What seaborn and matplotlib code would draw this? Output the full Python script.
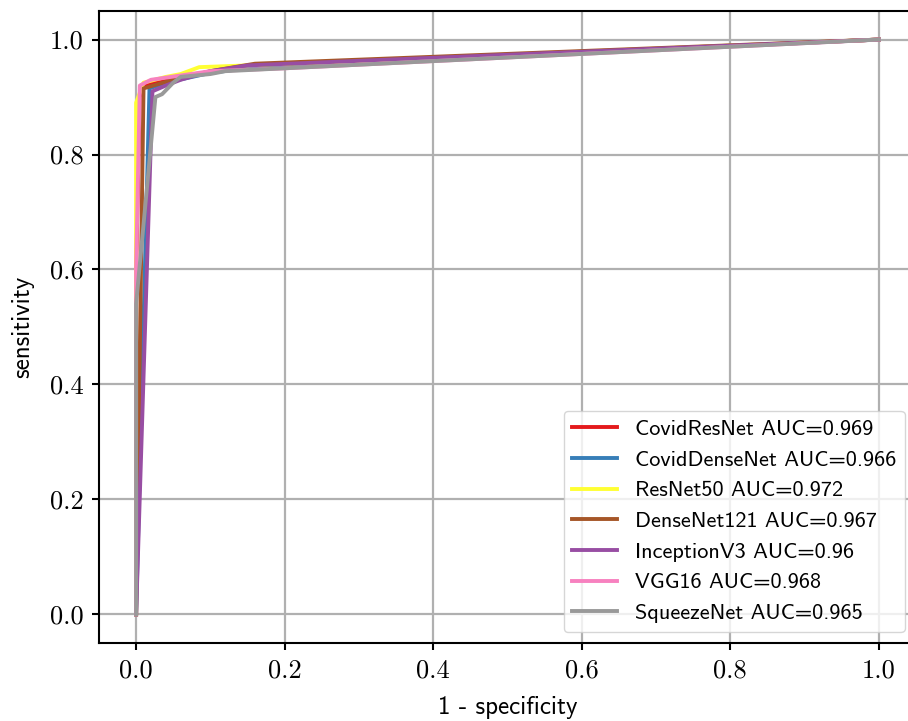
import pandas as pd
import seaborn as sns
import matplotlib.pyplot as plt
from matplotlib.ticker import FuncFormatter

# ROC points (fpr, tpr) per model
models = ["CovidResNet", "CovidDenseNet", "ResNet50", "DenseNet121",
          "InceptionV3", "VGG16", "SqueezeNet"]
auc = [0.969, 0.966, 0.972, 0.967, 0.96, 0.968, 0.965]
colors = ["#e41a1c", "#377eb8", "#ffff33", "#a65628",
          "#984ea3", "#f781bf", "#999999"]

fpr_covidresnet = [0.0, 0.0, 0.005, 0.01, 0.05, 0.15, 1.0]
tpr_covidresnet = [0.0, 0.6, 0.90, 0.92, 0.935, 0.952, 1.0]
fpr_coviddensenet = [0.0, 0.018, 0.04, 0.1, 0.16, 1.0]
tpr_coviddensenet = [0.0, 0.915, 0.925, 0.942, 0.952, 1.0]
fpr_resnet50 = [0.0, 0.0, 0.01, 0.04, 0.06, 0.085, 0.15, 1.0]
tpr_resnet50 = [0.0, 0.89, 0.925, 0.935, 0.94, 0.952, 0.955, 1.0]
fpr_densenet121 = [0.0, 0.01, 0.05, 0.1, 0.16, 1.0]
tpr_densenet121 = [0.0, 0.915, 0.93, 0.945, 0.958, 1.0]
fpr_inceptionv3 = [0.0, 0.022, 0.04, 0.06, 0.1, 0.15, 1.0]
tpr_inceptionv3 = [0.0, 0.91, 0.92, 0.93, 0.945, 0.955, 1.0]
fpr_vgg16 = [0.0, 0.0, 0.005, 0.02, 0.1, 0.2, 1.0]
tpr_vgg16 = [0.0, 0.6, 0.92, 0.93, 0.945, 0.95, 1.0]
fpr_squeezenet = [0.0, 0.0, 0.026, 0.035, 0.05, 0.06, 0.1, 0.12, 1.0]
tpr_squeezenet = [0.0, 0.54, 0.90, 0.905, 0.925, 0.935, 0.94, 0.945, 1.0]

fprs = [fpr_covidresnet, fpr_coviddensenet, fpr_resnet50, fpr_densenet121,
        fpr_inceptionv3, fpr_vgg16, fpr_squeezenet]
tprs = [tpr_covidresnet, tpr_coviddensenet, tpr_resnet50, tpr_densenet121,
        tpr_inceptionv3, tpr_vgg16, tpr_squeezenet]

rows = []
labels = []
for name, a, f, t in zip(models, auc, fprs, tprs):
    lab = f"{name} AUC={a}"
    labels.append(lab)
    for i, (x, y) in enumerate(zip(f, t)):
        rows.append({"fpr": x, "tpr": y, "model": lab, "order": i})
df = pd.DataFrame(rows)

plt.rcParams["axes.unicode_minus"] = False
fig = plt.figure(figsize=(9.08, 7.21), dpi=100)
ax = fig.add_axes([0.109, 0.108, 0.8998, 0.877])

sns.lineplot(data=df, x="fpr", y="tpr", hue="model", hue_order=labels,
             palette=colors, sort=False, estimator=None, units="model",
             linewidth=2.8, ax=ax)

ax.set_xlim(-0.05, 1.05)
ax.set_ylim(-0.05, 1.05)
ax.set_xticks([0, 0.2, 0.4, 0.6, 0.8, 1.0])
ax.set_yticks([0, 0.2, 0.4, 0.6, 0.8, 1.0])
ax.grid(True, color="#b0b0b0", linewidth=1.6)
ax.set_axisbelow(True)
for s in ax.spines.values():
    s.set_linewidth(1.5)
    s.set_color("black")
ax.tick_params(length=5, width=1.5, labelsize=19, pad=6)
ax.xaxis.set_major_formatter(FuncFormatter(lambda v, p: f"{v:.1f}"))
ax.yaxis.set_major_formatter(FuncFormatter(lambda v, p: f"{v:.1f}"))
for lbl in ax.get_xticklabels() + ax.get_yticklabels():
    lbl.set_fontfamily("cmr10")

ax.set_xlabel("1 - specificity", fontfamily="cmss10", fontsize=18, labelpad=10)
ax.set_ylabel("sensitivity", fontfamily="cmss10", fontsize=18, labelpad=11)

leg = ax.legend(loc="lower right", prop={"family": "cmss10", "size": 16},
                handlelength=2.0, framealpha=0.8, borderaxespad=0.5)
leg.set_title(None)

fig.savefig("out.png", dpi=100)
